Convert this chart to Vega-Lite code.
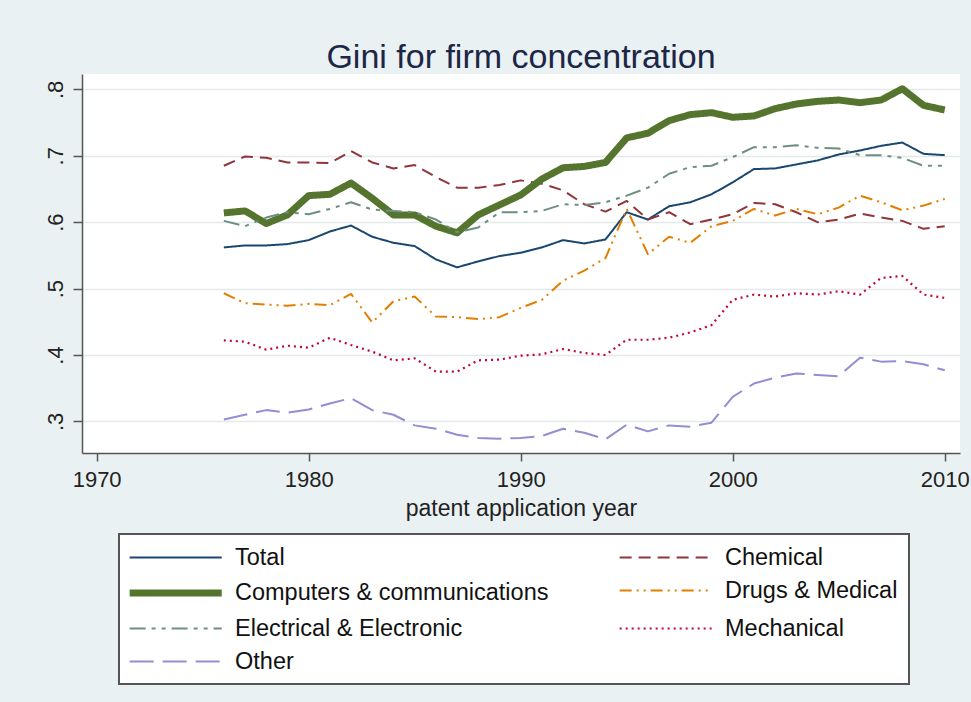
{
  "$schema": "https://vega.github.io/schema/vega-lite/v6.json",
  "autosize": {"type": "none"},
  "width": 878,
  "height": 379,
  "padding": {"left": 82, "top": 74, "right": 11, "bottom": 249},
  "title": {"text": "Gini for firm concentration", "fontSize": 34, "fontWeight": "normal", "color": "#1c2647", "anchor": "middle", "baseline": "alphabetic", "offset": -28, "font": "Liberation Sans"},
  "datasets": {
    "gini": [
      {"year":1976,"series":"Total","gini":0.562},{"year":1977,"series":"Total","gini":0.565},{"year":1978,"series":"Total","gini":0.565},{"year":1979,"series":"Total","gini":0.567},{"year":1980,"series":"Total","gini":0.573},{"year":1981,"series":"Total","gini":0.586},{"year":1982,"series":"Total","gini":0.595},{"year":1983,"series":"Total","gini":0.578},{"year":1984,"series":"Total","gini":0.569},{"year":1985,"series":"Total","gini":0.564},{"year":1986,"series":"Total","gini":0.544},{"year":1987,"series":"Total","gini":0.532},{"year":1988,"series":"Total","gini":0.541},{"year":1989,"series":"Total","gini":0.549},{"year":1990,"series":"Total","gini":0.554},{"year":1991,"series":"Total","gini":0.562},{"year":1992,"series":"Total","gini":0.573},{"year":1993,"series":"Total","gini":0.568},{"year":1994,"series":"Total","gini":0.574},{"year":1995,"series":"Total","gini":0.615},{"year":1996,"series":"Total","gini":0.604},{"year":1997,"series":"Total","gini":0.624},{"year":1998,"series":"Total","gini":0.630},{"year":1999,"series":"Total","gini":0.642},{"year":2000,"series":"Total","gini":0.660},{"year":2001,"series":"Total","gini":0.680},{"year":2002,"series":"Total","gini":0.681},{"year":2003,"series":"Total","gini":0.687},{"year":2004,"series":"Total","gini":0.693},{"year":2005,"series":"Total","gini":0.702},{"year":2006,"series":"Total","gini":0.708},{"year":2007,"series":"Total","gini":0.715},{"year":2008,"series":"Total","gini":0.720},{"year":2009,"series":"Total","gini":0.703},{"year":2010,"series":"Total","gini":0.701},
      {"year":1976,"series":"Chemical","gini":0.685},{"year":1977,"series":"Chemical","gini":0.699},{"year":1978,"series":"Chemical","gini":0.697},{"year":1979,"series":"Chemical","gini":0.690},{"year":1980,"series":"Chemical","gini":0.690},{"year":1981,"series":"Chemical","gini":0.689},{"year":1982,"series":"Chemical","gini":0.707},{"year":1983,"series":"Chemical","gini":0.690},{"year":1984,"series":"Chemical","gini":0.681},{"year":1985,"series":"Chemical","gini":0.686},{"year":1986,"series":"Chemical","gini":0.668},{"year":1987,"series":"Chemical","gini":0.652},{"year":1988,"series":"Chemical","gini":0.652},{"year":1989,"series":"Chemical","gini":0.656},{"year":1990,"series":"Chemical","gini":0.663},{"year":1991,"series":"Chemical","gini":0.658},{"year":1992,"series":"Chemical","gini":0.648},{"year":1993,"series":"Chemical","gini":0.627},{"year":1994,"series":"Chemical","gini":0.616},{"year":1995,"series":"Chemical","gini":0.632},{"year":1996,"series":"Chemical","gini":0.604},{"year":1997,"series":"Chemical","gini":0.615},{"year":1998,"series":"Chemical","gini":0.597},{"year":1999,"series":"Chemical","gini":0.604},{"year":2000,"series":"Chemical","gini":0.612},{"year":2001,"series":"Chemical","gini":0.629},{"year":2002,"series":"Chemical","gini":0.627},{"year":2003,"series":"Chemical","gini":0.615},{"year":2004,"series":"Chemical","gini":0.600},{"year":2005,"series":"Chemical","gini":0.604},{"year":2006,"series":"Chemical","gini":0.613},{"year":2007,"series":"Chemical","gini":0.607},{"year":2008,"series":"Chemical","gini":0.602},{"year":2009,"series":"Chemical","gini":0.590},{"year":2010,"series":"Chemical","gini":0.594},
      {"year":1976,"series":"Computers & communications","gini":0.614},{"year":1977,"series":"Computers & communications","gini":0.617},{"year":1978,"series":"Computers & communications","gini":0.598},{"year":1979,"series":"Computers & communications","gini":0.611},{"year":1980,"series":"Computers & communications","gini":0.640},{"year":1981,"series":"Computers & communications","gini":0.642},{"year":1982,"series":"Computers & communications","gini":0.659},{"year":1983,"series":"Computers & communications","gini":0.636},{"year":1984,"series":"Computers & communications","gini":0.611},{"year":1985,"series":"Computers & communications","gini":0.611},{"year":1986,"series":"Computers & communications","gini":0.594},{"year":1987,"series":"Computers & communications","gini":0.584},{"year":1988,"series":"Computers & communications","gini":0.611},{"year":1989,"series":"Computers & communications","gini":0.626},{"year":1990,"series":"Computers & communications","gini":0.641},{"year":1991,"series":"Computers & communications","gini":0.665},{"year":1992,"series":"Computers & communications","gini":0.682},{"year":1993,"series":"Computers & communications","gini":0.684},{"year":1994,"series":"Computers & communications","gini":0.690},{"year":1995,"series":"Computers & communications","gini":0.727},{"year":1996,"series":"Computers & communications","gini":0.734},{"year":1997,"series":"Computers & communications","gini":0.753},{"year":1998,"series":"Computers & communications","gini":0.762},{"year":1999,"series":"Computers & communications","gini":0.765},{"year":2000,"series":"Computers & communications","gini":0.758},{"year":2001,"series":"Computers & communications","gini":0.760},{"year":2002,"series":"Computers & communications","gini":0.771},{"year":2003,"series":"Computers & communications","gini":0.778},{"year":2004,"series":"Computers & communications","gini":0.782},{"year":2005,"series":"Computers & communications","gini":0.784},{"year":2006,"series":"Computers & communications","gini":0.780},{"year":2007,"series":"Computers & communications","gini":0.784},{"year":2008,"series":"Computers & communications","gini":0.801},{"year":2009,"series":"Computers & communications","gini":0.776},{"year":2010,"series":"Computers & communications","gini":0.769},
      {"year":1976,"series":"Drugs & Medical","gini":0.493},{"year":1977,"series":"Drugs & Medical","gini":0.478},{"year":1978,"series":"Drugs & Medical","gini":0.476},{"year":1979,"series":"Drugs & Medical","gini":0.474},{"year":1980,"series":"Drugs & Medical","gini":0.477},{"year":1981,"series":"Drugs & Medical","gini":0.475},{"year":1982,"series":"Drugs & Medical","gini":0.492},{"year":1983,"series":"Drugs & Medical","gini":0.449},{"year":1984,"series":"Drugs & Medical","gini":0.481},{"year":1985,"series":"Drugs & Medical","gini":0.488},{"year":1986,"series":"Drugs & Medical","gini":0.458},{"year":1987,"series":"Drugs & Medical","gini":0.457},{"year":1988,"series":"Drugs & Medical","gini":0.454},{"year":1989,"series":"Drugs & Medical","gini":0.457},{"year":1990,"series":"Drugs & Medical","gini":0.471},{"year":1991,"series":"Drugs & Medical","gini":0.483},{"year":1992,"series":"Drugs & Medical","gini":0.512},{"year":1993,"series":"Drugs & Medical","gini":0.527},{"year":1994,"series":"Drugs & Medical","gini":0.546},{"year":1995,"series":"Drugs & Medical","gini":0.620},{"year":1996,"series":"Drugs & Medical","gini":0.552},{"year":1997,"series":"Drugs & Medical","gini":0.578},{"year":1998,"series":"Drugs & Medical","gini":0.569},{"year":1999,"series":"Drugs & Medical","gini":0.594},{"year":2000,"series":"Drugs & Medical","gini":0.602},{"year":2001,"series":"Drugs & Medical","gini":0.620},{"year":2002,"series":"Drugs & Medical","gini":0.610},{"year":2003,"series":"Drugs & Medical","gini":0.620},{"year":2004,"series":"Drugs & Medical","gini":0.612},{"year":2005,"series":"Drugs & Medical","gini":0.622},{"year":2006,"series":"Drugs & Medical","gini":0.640},{"year":2007,"series":"Drugs & Medical","gini":0.630},{"year":2008,"series":"Drugs & Medical","gini":0.618},{"year":2009,"series":"Drugs & Medical","gini":0.625},{"year":2010,"series":"Drugs & Medical","gini":0.635},
      {"year":1976,"series":"Electrical & Electronic","gini":0.602},{"year":1977,"series":"Electrical & Electronic","gini":0.594},{"year":1978,"series":"Electrical & Electronic","gini":0.607},{"year":1979,"series":"Electrical & Electronic","gini":0.615},{"year":1980,"series":"Electrical & Electronic","gini":0.612},{"year":1981,"series":"Electrical & Electronic","gini":0.620},{"year":1982,"series":"Electrical & Electronic","gini":0.630},{"year":1983,"series":"Electrical & Electronic","gini":0.619},{"year":1984,"series":"Electrical & Electronic","gini":0.617},{"year":1985,"series":"Electrical & Electronic","gini":0.615},{"year":1986,"series":"Electrical & Electronic","gini":0.604},{"year":1987,"series":"Electrical & Electronic","gini":0.585},{"year":1988,"series":"Electrical & Electronic","gini":0.592},{"year":1989,"series":"Electrical & Electronic","gini":0.615},{"year":1990,"series":"Electrical & Electronic","gini":0.615},{"year":1991,"series":"Electrical & Electronic","gini":0.617},{"year":1992,"series":"Electrical & Electronic","gini":0.627},{"year":1993,"series":"Electrical & Electronic","gini":0.626},{"year":1994,"series":"Electrical & Electronic","gini":0.630},{"year":1995,"series":"Electrical & Electronic","gini":0.640},{"year":1996,"series":"Electrical & Electronic","gini":0.652},{"year":1997,"series":"Electrical & Electronic","gini":0.673},{"year":1998,"series":"Electrical & Electronic","gini":0.683},{"year":1999,"series":"Electrical & Electronic","gini":0.685},{"year":2000,"series":"Electrical & Electronic","gini":0.698},{"year":2001,"series":"Electrical & Electronic","gini":0.713},{"year":2002,"series":"Electrical & Electronic","gini":0.713},{"year":2003,"series":"Electrical & Electronic","gini":0.716},{"year":2004,"series":"Electrical & Electronic","gini":0.712},{"year":2005,"series":"Electrical & Electronic","gini":0.711},{"year":2006,"series":"Electrical & Electronic","gini":0.701},{"year":2007,"series":"Electrical & Electronic","gini":0.701},{"year":2008,"series":"Electrical & Electronic","gini":0.697},{"year":2009,"series":"Electrical & Electronic","gini":0.685},{"year":2010,"series":"Electrical & Electronic","gini":0.685},
      {"year":1976,"series":"Mechanical","gini":0.422},{"year":1977,"series":"Mechanical","gini":0.420},{"year":1978,"series":"Mechanical","gini":0.408},{"year":1979,"series":"Mechanical","gini":0.414},{"year":1980,"series":"Mechanical","gini":0.411},{"year":1981,"series":"Mechanical","gini":0.426},{"year":1982,"series":"Mechanical","gini":0.415},{"year":1983,"series":"Mechanical","gini":0.405},{"year":1984,"series":"Mechanical","gini":0.392},{"year":1985,"series":"Mechanical","gini":0.395},{"year":1986,"series":"Mechanical","gini":0.375},{"year":1987,"series":"Mechanical","gini":0.375},{"year":1988,"series":"Mechanical","gini":0.392},{"year":1989,"series":"Mechanical","gini":0.393},{"year":1990,"series":"Mechanical","gini":0.399},{"year":1991,"series":"Mechanical","gini":0.401},{"year":1992,"series":"Mechanical","gini":0.409},{"year":1993,"series":"Mechanical","gini":0.403},{"year":1994,"series":"Mechanical","gini":0.400},{"year":1995,"series":"Mechanical","gini":0.423},{"year":1996,"series":"Mechanical","gini":0.423},{"year":1997,"series":"Mechanical","gini":0.426},{"year":1998,"series":"Mechanical","gini":0.434},{"year":1999,"series":"Mechanical","gini":0.445},{"year":2000,"series":"Mechanical","gini":0.483},{"year":2001,"series":"Mechanical","gini":0.491},{"year":2002,"series":"Mechanical","gini":0.488},{"year":2003,"series":"Mechanical","gini":0.493},{"year":2004,"series":"Mechanical","gini":0.491},{"year":2005,"series":"Mechanical","gini":0.496},{"year":2006,"series":"Mechanical","gini":0.491},{"year":2007,"series":"Mechanical","gini":0.516},{"year":2008,"series":"Mechanical","gini":0.519},{"year":2009,"series":"Mechanical","gini":0.491},{"year":2010,"series":"Mechanical","gini":0.486},
      {"year":1976,"series":"Other","gini":0.303},{"year":1977,"series":"Other","gini":0.310},{"year":1978,"series":"Other","gini":0.317},{"year":1979,"series":"Other","gini":0.313},{"year":1980,"series":"Other","gini":0.318},{"year":1981,"series":"Other","gini":0.327},{"year":1982,"series":"Other","gini":0.335},{"year":1983,"series":"Other","gini":0.317},{"year":1984,"series":"Other","gini":0.310},{"year":1985,"series":"Other","gini":0.294},{"year":1986,"series":"Other","gini":0.289},{"year":1987,"series":"Other","gini":0.280},{"year":1988,"series":"Other","gini":0.275},{"year":1989,"series":"Other","gini":0.274},{"year":1990,"series":"Other","gini":0.275},{"year":1991,"series":"Other","gini":0.278},{"year":1992,"series":"Other","gini":0.289},{"year":1993,"series":"Other","gini":0.283},{"year":1994,"series":"Other","gini":0.273},{"year":1995,"series":"Other","gini":0.295},{"year":1996,"series":"Other","gini":0.285},{"year":1997,"series":"Other","gini":0.294},{"year":1998,"series":"Other","gini":0.292},{"year":1999,"series":"Other","gini":0.298},{"year":2000,"series":"Other","gini":0.337},{"year":2001,"series":"Other","gini":0.357},{"year":2002,"series":"Other","gini":0.366},{"year":2003,"series":"Other","gini":0.372},{"year":2004,"series":"Other","gini":0.370},{"year":2005,"series":"Other","gini":0.368},{"year":2006,"series":"Other","gini":0.396},{"year":2007,"series":"Other","gini":0.390},{"year":2008,"series":"Other","gini":0.391},{"year":2009,"series":"Other","gini":0.386},{"year":2010,"series":"Other","gini":0.377}
    ]
  },
  "data": {"name": "gini"},
  "mark": {"type": "line", "strokeJoin": "round", "strokeCap": "butt"},
  "encoding": {
    "x": {
      "field": "year", "type": "quantitative",
      "scale": {"domain": [1969.31, 2010.72], "nice": false, "zero": false},
      "axis": {"values": [1970, 1980, 1990, 2000, 2010], "format": "d", "grid": false, "title": "patent application year", "tickSize": 8, "labelPadding": 8, "titleY": 62, "titleBaseline": "alphabetic", "labelFlush": false}
    },
    "y": {
      "field": "gini", "type": "quantitative",
      "scale": {"domain": [0.2524, 0.8232], "nice": false, "zero": false},
      "axis": {"values": [0.3, 0.4, 0.5, 0.6, 0.7, 0.8], "labelExpr": "replace(format(datum.value, '.1f'), '0.', '.')", "grid": true, "gridColor": "#e4e9ec", "gridWidth": 1.5, "title": null, "tickSize": 9, "labelAngle": 270, "labelAlign": "center", "labelBaseline": "alphabetic", "labelPadding": 11, "labelFlush": false}
    },
    "color": {
      "field": "series", "type": "nominal",
      "scale": {
        "domain": ["Total", "Chemical", "Computers & communications", "Drugs & Medical", "Electrical & Electronic", "Mechanical", "Other"],
        "range": ["#1a476f", "#90353b", "#55752f", "#e37e00", "#6e8e84", "#c10534", "#938dd2"]
      },
      "legend": {
        "title": null, "orient": "none", "legendX": 37, "legendY": 460, "columns": 2, "direction": "horizontal", "columnPadding": 66, "rowPadding": 9,
        "padding": 11, "strokeColor": "#555555", "fillColor": "white", "labelFontSize": 23.5, "labelOffset": 75,
        "symbolType": "M-1.35,0H6.75", "symbolSize": 517, "labelLimit": 500, "labelColor": "#111111",
        "encode": {"legend": {"update": {"strokeWidth": {"value": 2}}}}
      }
    },
    "strokeDash": {
      "field": "series", "type": "nominal",
      "scale": {
        "domain": ["Total", "Chemical", "Computers & communications", "Drugs & Medical", "Electrical & Electronic", "Mechanical", "Other"],
        "range": [[1, 0], [12, 7], [1, 0], [12, 5, 2, 5, 2, 5], [16, 6, 4, 6, 4, 6], [2, 4], [24, 9]]
      }
    },
    "strokeWidth": {
      "field": "series", "type": "ordinal",
      "scale": {
        "type": "ordinal",
        "domain": ["Total", "Chemical", "Computers & communications", "Drugs & Medical", "Electrical & Electronic", "Mechanical", "Other"],
        "range": [2, 2, 7, 2, 2, 2.2, 2]
      }
    }
  },
  "config": {
    "background": "#eaf1f3",
    "view": {"fill": "white", "stroke": null},
    "font": "Liberation Sans",
    "axis": {"domainColor": "#555555", "tickColor": "#555555", "labelColor": "#222222", "titleColor": "#222222", "labelFontSize": 22, "titleFontSize": 23, "titleFontWeight": "normal", "domainWidth": 1.5, "tickWidth": 1.5}
  }
}
